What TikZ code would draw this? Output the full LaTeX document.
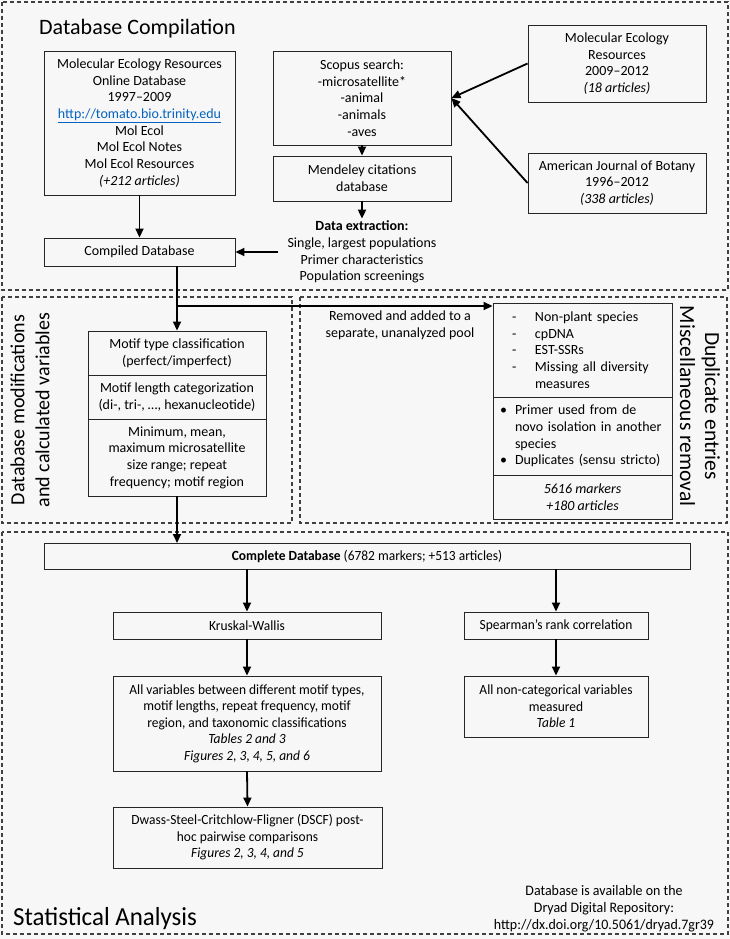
\documentclass[tikz,border=0pt]{standalone}
\usepackage{fontspec}
\setmainfont{Carlito}
\newfontfamily\narrowfont[FakeStretch=0.96]{Carlito}
\usetikzlibrary{arrows.meta}
\definecolor{bgcol}{RGB}{247,247,247}
\definecolor{linkblue}{RGB}{5,99,193}
\begin{document}
\begin{tikzpicture}[x=1pt,y=-1pt,
		every node/.style={font=\fontsize{14}{16.7}\selectfont},
		box/.style={draw=black!85,line width=0.9pt,align=center,inner sep=0pt},
		section/.style={draw=black!75,line width=1.1pt,dash pattern=on 4pt off 3pt},
		flow/.style={line width=1.8pt,-{Triangle[length=9pt,width=8pt]}},
		heading/.style={font=\fontsize{22}{26}\selectfont,anchor=base west,inner sep=0pt},
		sidelabel/.style={font=\fontsize{20}{25}\selectfont,align=center},
		narrow/.style={font=\narrowfont\fontsize{14}{16.5}\selectfont,align=center}]
		\fill[bgcol] (0,0) rectangle (730,939);
		\draw[section] (2,2) rectangle (728,290);
		\draw[section] (2,297) rectangle (292,523);
		\draw[section] (300,297) rectangle (727,523);
		\draw[section] (2,532) rectangle (728,934);
		\node[heading] (comptitle) at (39,35) {Database Compilation};
		\node[box,minimum width=191pt,minimum height=144pt] (mer) at (139.5,123) {Molecular Ecology Resources\\Online Database\\1997–2009\\\textcolor{linkblue}{\underline{http://tomato.bio.trinity.edu}}\\Mol Ecol\\Mol Ecol Notes\\Mol Ecol Resources\\\textit{(+212 articles)}};
		\node[box,minimum width=191pt,minimum height=28pt] (comp) at (139.5,252) {Compiled Database};
		\node[box,minimum width=178pt,minimum height=94pt] (scopus) at (362,98) {Scopus search:\\-microsatellite*\\-animal\\-animals\\-aves};
		\node[box,minimum width=178pt,minimum height=45pt] (mendeley) at (362,178.5) {Mendeley citations\\database};
		\node[align=center,inner xsep=9pt,inner ysep=2pt] (extract) at (362,252) {\textbf{Data extraction:}\\Single, largest populations\\Primer characteristics\\Population screenings};
		\node[box,minimum width=178pt,minimum height=77pt] (mer2) at (617,63.5) {Molecular Ecology\\Resources\\2009–2012\\\textit{(18 articles)}};
		\node[box,minimum width=178pt,minimum height=60pt] (ajb) at (617,183) {American Journal of Botany\\1996–2012\\\textit{(338 articles)}};
		\draw[flow] (mer.south) -- (comp.north);
		\draw[flow] (scopus.south) -- (mendeley.north);
		\draw[flow] (mendeley.south) -- (extract.north);
		\draw[flow] (extract.west) -- (comp.east);
		\draw[flow] (mer2.west) -- (scopus.east);
		\draw[flow] (ajb.west) -- (scopus.east);
		\node[sidelabel,rotate=90] (modlabel) at (30,410) {Database modifications\\and calculated variables};
		\node[box,minimum width=178pt,minimum height=44pt] (motif1) at (177,353) {Motif type classification\\(perfect/imperfect)};
		\node[box,minimum width=178pt,minimum height=44pt] (motif2) at (177,397) {Motif length categorization\\(di-, tri-, …, hexanucleotide)};
		\node[box,minimum width=178pt,minimum height=77pt] (motif3) at (177,457.5) {Minimum, mean,\\maximum microsatellite\\size range; repeat\\frequency; motif region};
		\node (pooltext) at (400,325.5) [align=center] {Removed and added to a\\separate, unanalyzed pool};
		\node[box,minimum width=179pt,minimum height=94pt,align=left,text width=141pt,inner xsep=19pt] (nonplant) at (582.5,350) {\mbox{\makebox[23pt][l]{-}Non-plant species}\\\mbox{\makebox[23pt][l]{-}cpDNA}\\\mbox{\makebox[23pt][l]{-}EST-SSRs}\\\mbox{\makebox[23pt][l]{-}Missing all diversity}\\\mbox{\hspace*{23pt}measures}};
		\node[box,minimum width=179pt,minimum height=78pt,align=left,text width=165pt,inner xsep=7pt] (dupl) at (582.5,436) {\mbox{\makebox[15pt][l]{•}Primer used from de}\\\mbox{\hspace*{15pt}novo isolation in another}\\\mbox{\hspace*{15pt}species}\\\mbox{\makebox[15pt][l]{•}Duplicates (sensu stricto)}};
		\node[box,minimum width=179pt,minimum height=44pt] (kept) at (582.5,497) {\textit{5616 markers}\\\textit{+180 articles}};
		\node[sidelabel,font=\fontsize{21.5}{25}\selectfont,rotate=-90] (duplabel) at (700,406) {Duplicate entries\\Miscellaneous removal};
		\coordinate (split) at (177,306);
		\draw[line width=1.8pt] (comp.south -| split) -- (split);
		\draw[flow] (split) -- (motif1.north);
		\draw[flow] (split) -- (split -| nonplant.west);
		\draw[flow] (motif3.south) -- (motif3.south |- 0,543);
		\node[box,narrow,minimum width=646pt,minimum height=26pt] (complete) at (367,556) {\textbf{Complete Database} (6782 markers; +513 articles)};
		\node[box,narrow,minimum width=268pt,minimum height=27pt] (kw) at (247,625.5) {Kruskal-Wallis};
		\node[box,narrow,minimum width=268pt,minimum height=95pt] (kwres) at (247,723.5) {All variables between different motif types,\\motif lengths, repeat frequency, motif\\region, and taxonomic classifications\\\textit{Tables 2 and 3}\\\textit{Figures 2, 3, 4, 5, and 6}};
		\node[box,narrow,minimum width=269pt,minimum height=61pt] (dscf) at (247.5,837.5) {Dwass-Steel-Critchlow-Fligner (DSCF) post-\\hoc pairwise comparisons\\\textit{Figures 2, 3, 4, and 5}};
		\node[box,narrow,minimum width=184pt,minimum height=27pt] (sp) at (556,625.5) {Spearman’s rank correlation};
		\node[box,narrow,minimum width=184pt,minimum height=61pt] (spres) at (556,706.5) {All non-categorical variables\\measured\\\textit{Table 1}};
		\draw[flow] (complete.south -| kw.north) -- (kw.north);
		\draw[flow] (complete.south -| sp.north) -- (sp.north);
		\draw[flow] (kw.south) -- (kwres.north);
		\draw[flow] (kwres.south) -- (dscf.north);
		\draw[flow] (sp.south) -- (spres.north);
		\node[heading,font=\narrowfont\fontsize{26}{30}\selectfont] (stattitle) at (13,925) {Statistical Analysis};
		\node[narrow,font=\narrowfont\fontsize{14.5}{17}\selectfont] (dryad) at (604,909) {Database is available on the\\Dryad Digital Repository:\\http://dx.doi.org/10.5061/dryad.7gr39};
	\end{tikzpicture}
\end{document}
